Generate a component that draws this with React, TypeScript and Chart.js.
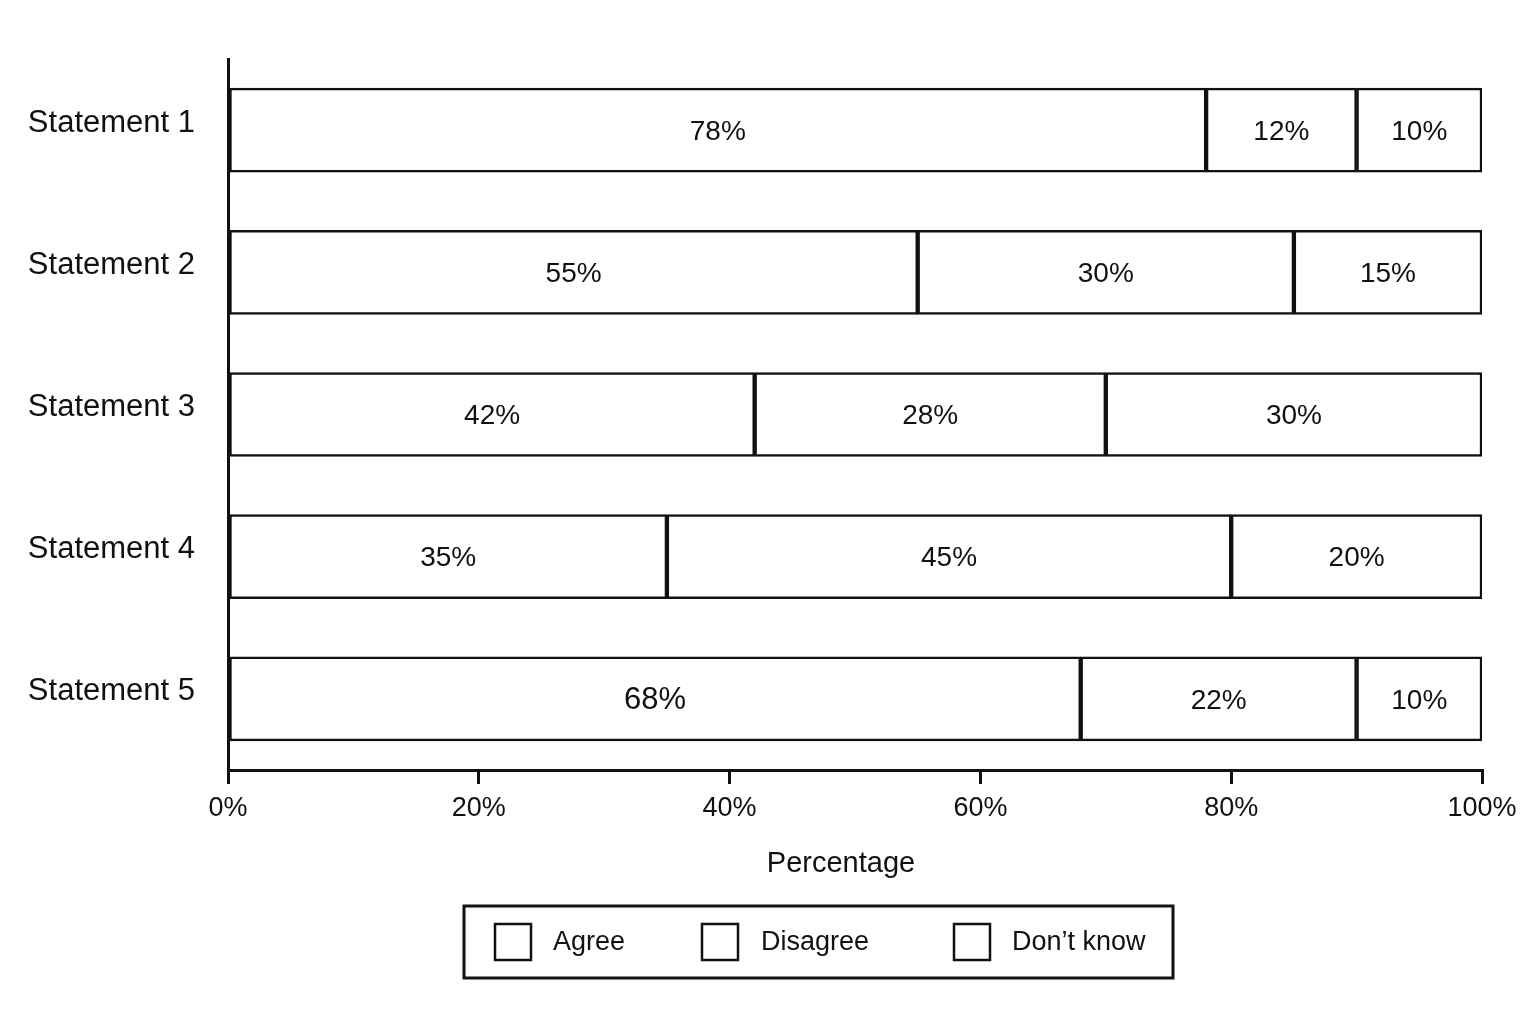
import React, { useEffect, useRef } from "react";
import { Chart, registerables } from "chart.js";

Chart.register(...registerables);

const categories = ["Statement 1", "Statement 2", "Statement 3", "Statement 4", "Statement 5"];
const seriesNames = ["Agree", "Disagree", "Don’t know"];
const agree = [78, 55, 42, 35, 68];
const disagree = [12, 30, 28, 45, 22];
const dontKnow = [10, 15, 30, 20, 10];
const xTicks = [0, 20, 40, 60, 80, 100];
const xTitle = "Percentage";

const FONT = "'Liberation Sans', Arial, sans-serif";

const labelPlugin = {
  id: "barLabels",
  afterDatasetsDraw(chart: any) {
    const ctx = chart.ctx;
    ctx.save();
    ctx.fillStyle = "#111";
    ctx.textAlign = "center";
    ctx.textBaseline = "middle";
    chart.data.datasets.forEach((ds: any, di: number) => {
      const meta = chart.getDatasetMeta(di);
      meta.data.forEach((el: any, i: number) => {
        const v = ds.data[i];
        const big = di === 0 && i === 4;
        ctx.font = `${big ? 31 : 28}px ${FONT}`;
        const cx = (el.x + el.base) / 2;
        ctx.fillText(`${v}%`, cx, el.y + 2);
      });
    });
    ctx.restore();
  },
};

const legendPlugin = {
  id: "boxLegend",
  afterDraw(chart: any) {
    const ctx = chart.ctx;
    ctx.save();
    // axis title
    ctx.fillStyle = "#111";
    ctx.font = `29px ${FONT}`;
    ctx.textAlign = "center";
    ctx.textBaseline = "middle";
    ctx.fillText(xTitle, 841, 864);
    // legend box
    ctx.strokeStyle = "#111";
    ctx.lineWidth = 3;
    ctx.strokeRect(464, 906, 709, 72);
    const boxX = [495, 702, 954];
    const textX = [553, 761, 1012];
    ctx.lineWidth = 2.5;
    ctx.font = `27px ${FONT}`;
    ctx.textAlign = "left";
    chart.data.datasets.forEach((ds: any, i: number) => {
      ctx.strokeRect(boxX[i], 924, 36, 36);
      ctx.fillText(ds.label, textX[i], 943);
    });
    ctx.restore();
  },
};

export default function App() {
  const ref = useRef<HTMLCanvasElement>(null);
  useEffect(() => {
    if (!ref.current) return;
    const mk = (label: string, data: number[]) => ({
      label,
      data,
      backgroundColor: "#ffffff",
      borderColor: "#111111",
      borderWidth: 2.5,
      borderSkipped: false,
      barThickness: 84,
    });
    const chart = new Chart(ref.current, {
      type: "bar",
      data: {
        labels: categories,
        datasets: [
          mk(seriesNames[0], agree),
          mk(seriesNames[1], disagree),
          mk(seriesNames[2], dontKnow),
        ],
      },
      options: {
        indexAxis: "y",
        responsive: false,
        animation: false,
        events: [],
        layout: { padding: { top: 59, right: 54, bottom: 140, left: 0 } },
        plugins: {
          legend: { display: false },
          tooltip: { enabled: false },
        },
        scales: {
          x: {
            stacked: true,
            min: 0,
            max: 100,
            afterBuildTicks: (scale: any) => {
              scale.ticks = xTicks.map((v) => ({ value: v }));
            },
            afterFit: (scale: any) => {
              scale.height = 114;
            },
            border: { display: true, color: "#111", width: 3 },
            grid: {
              display: true,
              drawOnChartArea: false,
              drawTicks: true,
              tickLength: 14,
              color: "#111",
              lineWidth: 3,
            },
            ticks: {
              color: "#111",
              font: { family: FONT, size: 27 },
              padding: 8,
              maxRotation: 0,
              callback: (v: any) => `${v}%`,
            },
            title: { display: false },
          },
          y: {
            stacked: true,
            afterFit: (scale: any) => {
              scale.width = 228;
            },
            border: { display: true, color: "#111", width: 3 },
            grid: { display: false, drawTicks: false },
            ticks: {
              color: "#111",
              font: { family: FONT, size: 31 },
              padding: 33,
              labelOffset: -7,
            },
          },
        },
      },
      plugins: [labelPlugin, legendPlugin],
    });
    return () => chart.destroy();
  }, []);
  return (
    <div style={{ position: "fixed", left: 0, top: 0, width: 1536, height: 1024, background: "#fff" }}>
      <canvas ref={ref} width={1536} height={1024} style={{ width: 1536, height: 1024 }} />
    </div>
  );
}
